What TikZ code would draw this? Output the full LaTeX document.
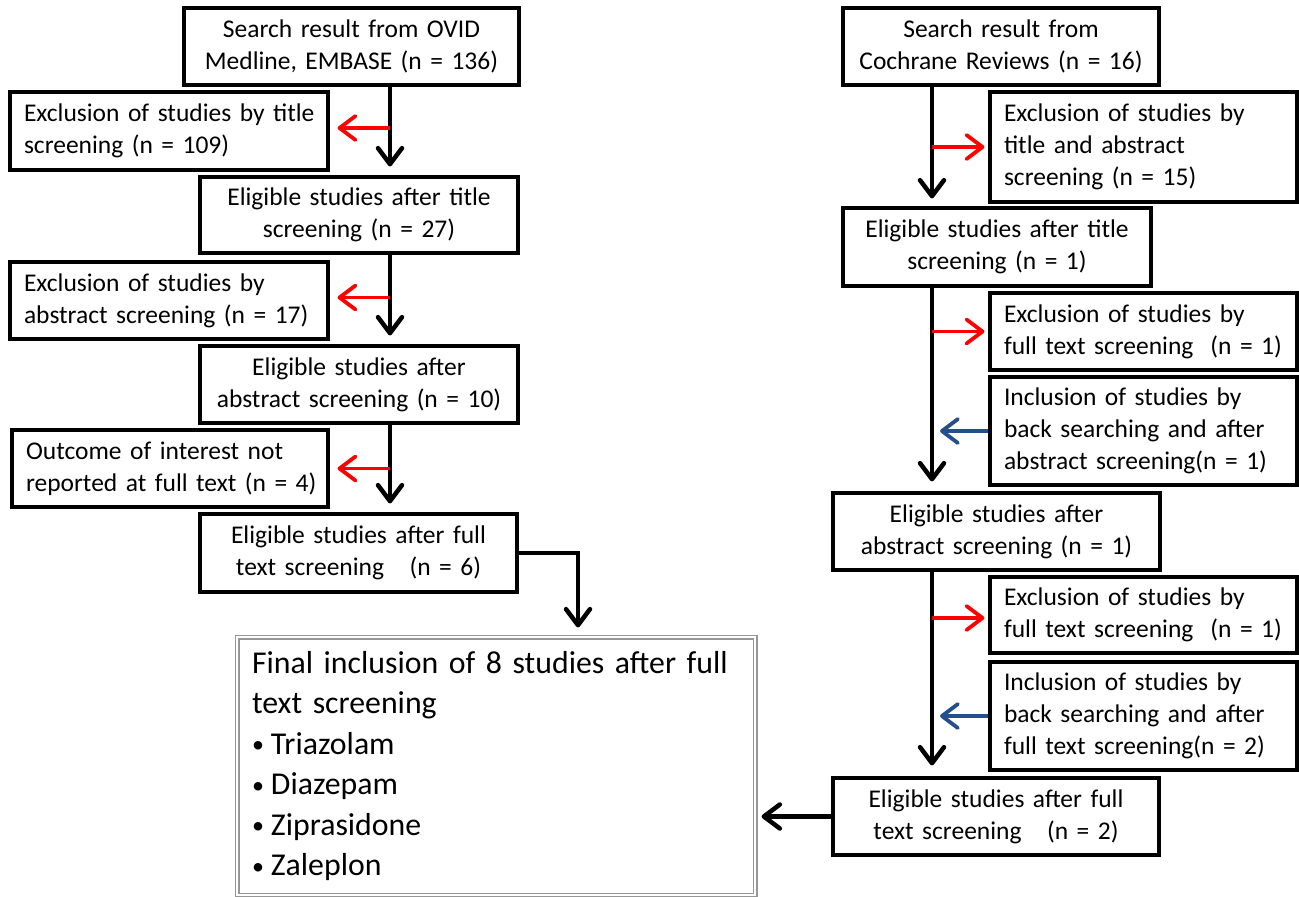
\documentclass[tikz,border=0pt]{standalone}
\usepackage{fontspec}
\setmainfont{Carlito}[WordSpace=0.85]
\usetikzlibrary{arrows.meta,calc}
\definecolor{exred}{RGB}{255,0,0}
\definecolor{exblue}{RGB}{35,80,140}
\definecolor{finalgray}{RGB}{150,150,150}
\newcommand{\oneline}[1]{\mbox{#1}}
\newcommand{\smbullet}{{\fontsize{24}{24}\selectfont\raisebox{1.5pt}{\textbullet}}\hspace{7pt}}
\tikzset{
  bx/.style={draw, line width=3.2pt, inner ysep=0pt, font=\fontsize{25.5}{31.7}\selectfont},
  cbx/.style={bx, align=center, inner xsep=4pt},
  lbx/.style={bx, align=left, inner xsep=14pt},
  arr/.style={line width=4.5pt, -{Straight Barb[length=16pt,width=24pt,round]}},
  rarr/.style={arr, line width=3.8pt, draw=exred},
  barr/.style={arr, line width=3.8pt, draw=exblue},
  finalbox/.style={draw=finalgray, double=white, double distance=2.6pt, line width=1.2pt,
    align=left, inner xsep=15pt, inner ysep=0pt, font=\fontsize{31.8}{40.5}\selectfont},
}
\begin{document}
\begin{tikzpicture}[x=1pt,y=-1pt]
\fill[white] (0,0) rectangle (1299,897);
\useasboundingbox (0,0) rectangle (1299,897);
\coordinate (Lx) at (390,0);
\coordinate (Fx) at (578,0);
\coordinate (Rx) at (932,0);
% left column
\node[cbx, text width=327pt, minimum height=77pt] (B1) at (351.5,46.5) {Search result from OVID\\Medline, EMBASE (n = 136)};
\node[lbx, text width=290pt, minimum height=78pt] (E1) at (169,131) {\oneline{Exclusion of studies by title}\\\oneline{screening (n = 109)}};
\node[cbx, text width=310pt, minimum height=76pt] (B2) at (359,215) {Eligible studies after title\\screening (n = 27)};
\node[lbx, text width=290pt, minimum height=77pt] (E3) at (169,300.5) {\oneline{Exclusion of studies by}\\\oneline{abstract screening (n = 17)}};
\node[cbx, text width=310pt, minimum height=77pt] (B3) at (359,384.5) {Eligible studies after\\abstract screening (n = 10)};
\node[lbx, text width=288pt, minimum height=77pt] (E4) at (170,468.5) {\oneline{Outcome of interest not}\\\oneline{reported at full text (n = 4)}};
\node[cbx, text width=309pt, minimum height=78pt] (B4) at (358.5,553) {Eligible studies after full\\text screening\ \ \ (n = 6)};
% final box
\node[finalbox, text width=488pt, minimum height=258pt] (F) at (496,766)
  {\oneline{Final inclusion of 8 studies after full}\\text screening\\\smbullet Triazolam\\\smbullet Diazepam\\\smbullet Ziprasidone\\\smbullet Zaleplon};
% right column
\node[cbx, text width=308pt, minimum height=77pt] (R1) at (1001,46.5) {Search result from\\Cochrane Reviews (n = 16)};
\node[lbx, text width=279pt, minimum height=110pt] (RE1) at (1143.5,147) {\oneline{Exclusion of studies by}\\\oneline{title and abstract}\\\oneline{screening (n = 15)}};
\node[cbx, text width=300pt, minimum height=78pt] (R2) at (997,247) {Eligible studies after title\\screening (n = 1)};
\node[lbx, text width=279pt, minimum height=77pt] (RE2) at (1143.5,331.5) {\oneline{Exclusion of studies by}\\\oneline{full text screening\ \ (n = 1)}};
\node[lbx, text width=279pt, minimum height=108pt] (RI1) at (1143.5,431) {\oneline{Inclusion of studies by}\\\oneline{back searching and after}\\\oneline{abstract screening(n = 1)}};
\node[cbx, text width=319pt, minimum height=77pt] (R3) at (996.5,531.5) {Eligible studies after\\abstract screening (n = 1)};
\node[lbx, text width=279pt, minimum height=76pt] (RE3) at (1143.5,615) {\oneline{Exclusion of studies by}\\\oneline{full text screening\ \ (n = 1)}};
\node[lbx, text width=279pt, minimum height=108pt] (RI2) at (1143.5,716) {\oneline{Inclusion of studies by}\\\oneline{back searching and after}\\\oneline{full text screening(n = 2)}};
\node[cbx, text width=318pt, minimum height=77pt] (R4) at (996,816.5) {Eligible studies after full\\text screening\ \ \ (n = 2)};
% left connectors
\draw[arr] (B1.south -| Lx) -- ($(B2.north -| Lx)+(0,-9)$);
\draw[arr] (B2.south -| Lx) -- ($(B3.north -| Lx)+(0,-9)$);
\draw[arr] (B3.south -| Lx) -- ($(B4.north -| Lx)+(0,-9)$);
\draw[rarr] ($(E1.east -| Lx)+(0,-3)$) -- ($(E1.east)+(8,-3)$);
\draw[rarr] ($(E3.east -| Lx)+(0,-3)$) -- ($(E3.east)+(8,-3)$);
\draw[rarr] (E4.east -| Lx) -- ($(E4.east)+(8,0)$);
\draw[arr] (B4.east) -| ($(F.north -| Fx)+(0,-9)$);
% right connectors
\draw[arr] (R1.south -| Rx) -- ($(R2.north -| Rx)+(0,-8)$);
\draw[arr] (R2.south -| Rx) -- ($(R3.north -| Rx)+(0,-10)$);
\draw[arr] (R3.south -| Rx) -- ($(R4.north -| Rx)+(0,-11)$);
\draw[rarr] (RE1.west -| Rx) -- ($(RE1.west)+(-4,0)$);
\draw[rarr] (RE2.west -| Rx) -- ($(RE2.west)+(-4,0)$);
\draw[barr] (RI1.west) -- ($(RI1.west -| Rx)+(8,0)$);
\draw[rarr] ($(RE3.west -| Rx)+(0,3)$) -- ($(RE3.west)+(-4,3)$);
\draw[barr] (RI2.west) -- ($(RI2.west -| Rx)+(8,0)$);
\draw[arr] (R4.west) -- ($(R4.west -| F.east)+(6,0)$);
\end{tikzpicture}
\end{document}
